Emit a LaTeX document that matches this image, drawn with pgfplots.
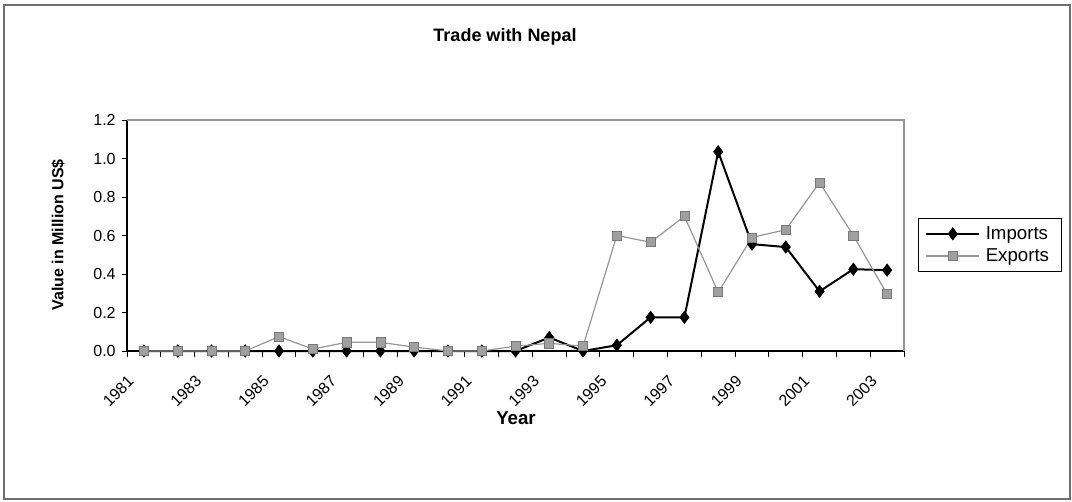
\documentclass[border=0pt]{standalone}
\usepackage{fontspec}
\setmainfont{Liberation Sans}
\usepackage{pgfplots}
\pgfplotsset{compat=1.18}

% Annual trade values, million US$ (year index 1 = 1981)
\pgfplotstableread{
idx imports exports
1  0.000 0.000
2  0.000 0.000
3  0.000 0.000
4  0.000 0.000
5  0.000 0.075
6  0.000 0.010
7  0.000 0.045
8  0.000 0.045
9  0.000 0.020
10 0.000 0.000
11 0.000 0.000
12 0.000 0.025
13 0.070 0.040
14 0.000 0.025
15 0.030 0.600
16 0.175 0.565
17 0.175 0.700
18 1.035 0.305
19 0.555 0.590
20 0.540 0.630
21 0.310 0.875
22 0.425 0.600
23 0.420 0.295
}\tradedata

\definecolor{expline}{RGB}{150,150,150}
\definecolor{expfill}{RGB}{160,160,160}
\definecolor{expedge}{RGB}{120,120,120}
\definecolor{framegray}{RGB}{110,110,110}

\begin{document}
\begin{tikzpicture}
  % page extent and chart frame
  \path (0pt,0pt) rectangle (804pt,375.75pt);
  \draw[framegray, line width=1.1pt] (3pt,1.5pt) rectangle (802.5pt,372pt);

  % chart title and axis titles
  \node[font=\fontsize{13.5}{16}\selectfont\bfseries] at (378.75pt,348pt) {Trade with Nepal};
  \node[font=\fontsize{12}{14}\selectfont\bfseries, rotate=90] at (43.5pt,199.5pt) {Value in Million US\$};
  \node[font=\fontsize{14}{16}\selectfont\bfseries] at (387pt,62pt) {Year};

  \begin{axis}[
    at={(95.25pt,112.5pt)}, anchor=south west,
    scale only axis,
    width=582.75pt, height=173.25pt,
    xmin=0.5, xmax=23.5,
    ymin=0, ymax=1.2,
    clip=false,
    axis lines*=left,
    axis line style={black, -, line width=0.9pt},
    tick align=outside,
    xtick={1,3,...,23},
    xticklabels={1981,1983,1985,1987,1989,1991,1993,1995,1997,1999,2001,2003},
    major x tick style={draw=none},
    minor xtick={0.5,1.5,...,23.5},
    minor tick length=4.5pt,
    major tick length=4pt,
    every tick/.style={black, line width=0.7pt},
    ytick={0,0.2,...,1.21},
    /pgf/number format/fixed,
    /pgf/number format/fixed zerofill,
    /pgf/number format/precision=1,
    /pgf/number format/assume math mode=true,
    tick label style={font=\fontsize{12}{14}\selectfont},
    yticklabel style={xshift=-1pt},
    xticklabel style={xshift=-12.75pt, yshift=-13.5pt, rotate=45, anchor=north east, inner sep=0pt},
    legend style={at={(1.018,0.576)}, anchor=north west,
      draw=black, line width=0.7pt,
      font=\fontsize{14}{16}\selectfont,
      inner xsep=5pt, inner ysep=4pt, row sep=1.5pt,
      nodes={inner xsep=4pt}},
    legend cell align=left,
    legend image code/.code={%
      \draw[mark repeat=2, mark phase=2, #1]
        plot coordinates {(0pt,0pt) (20pt,0pt) (40pt,0pt)};},
  ]
    \addplot[black, line width=1.5pt, mark=diamond*,
             mark size=4.6pt, mark options={fill=black, line width=0.5pt}]
      table[x=idx, y=imports] {\tradedata};
    \addlegendentry{Imports}
    \addplot[expline, line width=0.9pt, mark=square*,
             mark size=3.4pt, mark options={fill=expfill, draw=expedge, line width=0.5pt}]
      table[x=idx, y=exports] {\tradedata};
    \addlegendentry{Exports}
    % plot-area border on the top and right
    \draw[expline, line width=0.8pt] (rel axis cs:0,1) -- (rel axis cs:1,1) -- (rel axis cs:1,0);
  \end{axis}
\end{tikzpicture}
\end{document}
